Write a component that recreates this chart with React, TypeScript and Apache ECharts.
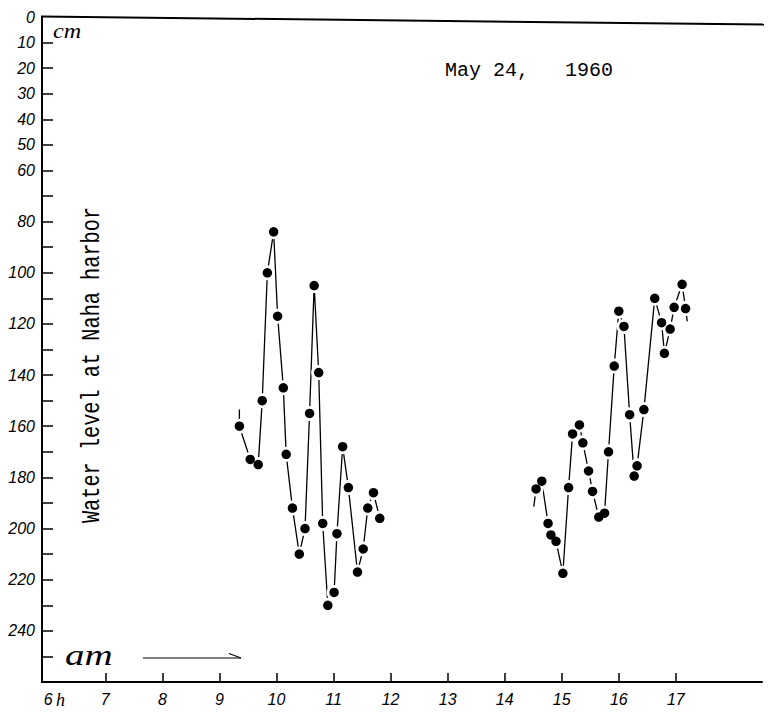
import React, { useEffect, useRef } from "react";
import * as echarts from "echarts";

// Morning observations (hour of day, water level in cm below datum)
const amTimes = [9.35, 9.54, 9.68, 9.75, 9.84, 9.95, 10.02, 10.12, 10.17, 10.28, 10.4, 10.5, 10.58, 10.66, 10.74, 10.81, 10.9, 11.01, 11.06, 11.16, 11.26, 11.42, 11.52, 11.6, 11.7, 11.81];
const amLevels = [160, 173, 175, 150, 100, 84, 117, 145, 171, 192, 210, 200, 155, 105, 139, 198, 230, 225, 202, 168, 184, 217, 208, 192, 186, 196];

// Afternoon observations
const pmTimes = [14.55, 14.65, 14.76, 14.81, 14.9, 15.02, 15.12, 15.19, 15.31, 15.37, 15.47, 15.54, 15.65, 15.75, 15.82, 15.92, 16.0, 16.09, 16.19, 16.27, 16.32, 16.44, 16.63, 16.75, 16.8, 16.9, 16.97, 17.11, 17.17];
const pmLevels = [184.5, 181.5, 198, 202.5, 205, 217.5, 184, 163, 159.5, 166.5, 177.5, 185.5, 195.5, 194, 170, 136.5, 115, 121, 155.5, 179.5, 175.5, 153.5, 110, 119.5, 131.5, 122, 113.5, 104.5, 114];

// Hand-drawn curve continuation stubs (time, level)
const amLeadStub = [9.35, 153.5];
const pmLeadStub = [14.51, 191.4];
const pmTrailStub = [17.2, 119];

// Axis ticks / labels
const xTickValues = [7, 8, 9, 10, 11, 12, 13, 14, 15, 16, 17];
const xLabelValues = [6, 7, 8, 9, 10, 11, 12, 13, 14, 15, 16, 17];
const yTickValues = [10, 20, 30, 40, 50, 60, 70, 80, 90, 100, 110, 120, 130, 140, 150, 160, 170, 180, 190, 200, 210, 220, 230, 240, 250];
const yLabelValues = [0, 10, 20, 30, 40, 50, 60, 80, 100, 120, 140, 160, 180, 200, 220, 240];

const title = "May 24,   1960";
const yName = "Water level at Naha harbor";

const handFont = "Liberation Sans";
const typeFont = "Liberation Mono";

function pairs(t: number[], v: number[]) {
  return t.map((x, i) => [x, v[i]]);
}

export default function App() {
  const ref = useRef<HTMLDivElement>(null);

  useEffect(() => {
    if (!ref.current) return;
    const chart = echarts.init(ref.current, null, { renderer: "svg" });

    const amPts = pairs(amTimes, amLevels);
    const pmPts = pairs(pmTimes, pmLevels);
    const stub = (p: number[]) => ({ value: p, symbol: "none" });

    const haloLine = (data: any[]) => ({
      type: "line",
      data,
      symbol: "circle",
      symbolSize: 15,
      showAllSymbol: true,
      itemStyle: { color: "#ffffff", borderWidth: 0 },
      lineStyle: { color: "#000", width: 1.3 },
      z: 2,
      silent: true,
    });
    const dots = (data: any[]) => ({
      type: "scatter",
      data,
      symbol: "circle",
      symbolSize: 9.5,
      itemStyle: { color: "#000", opacity: 1 },
      z: 4,
      silent: true,
    });

    chart.setOption({
      animation: false,
      backgroundColor: "#ffffff",
      grid: { left: 42, top: 17, right: 7, bottom: 30, containLabel: false },
      xAxis: {
        type: "value",
        min: 5.89,
        max: 18.51,
        splitLine: { show: false },
        axisLine: { show: true, onZero: false, lineStyle: { color: "#000", width: 2 } },
        axisTick: {
          show: true,
          inside: true,
          length: 9,
          customValues: xTickValues,
          lineStyle: { color: "#000", width: 1.5 },
        },
        axisLabel: {
          customValues: xLabelValues,
          margin: 9,
          color: "#000",
          fontFamily: handFont,
          fontStyle: "italic",
          fontSize: 16,
        },
      },
      yAxis: {
        type: "value",
        inverse: true,
        min: 0,
        max: 260,
        splitLine: { show: false },
        axisLine: { show: true, onZero: false, lineStyle: { color: "#000", width: 2 } },
        axisTick: {
          show: true,
          inside: true,
          length: 11,
          customValues: yTickValues,
          lineStyle: { color: "#000", width: 1.5 },
        },
        axisLabel: {
          customValues: yLabelValues,
          showMinLabel: true,
          margin: 7,
          color: "#000",
          fontFamily: handFont,
          fontStyle: "italic",
          fontSize: 16,
        },
      },
      series: [
        haloLine([stub(amLeadStub), ...amPts]),
        haloLine([stub(pmLeadStub), ...pmPts, stub(pmTrailStub)]),
        dots(amPts),
        dots(pmPts),
      ],
      graphic: [
        {
          type: "line",
          shape: { x1: 41, y1: 16.5, x2: 764, y2: 24.5 },
          style: { stroke: "#000", lineWidth: 2 },
          z: 10,
        },
        {
          type: "text",
          x: 53,
          y: 31,
          scaleX: 1.15,
          style: {
            text: "cm",
            fontFamily: "Liberation Serif",
            fontStyle: "italic",
            fontSize: 21,
            fill: "#000",
            textVerticalAlign: "middle",
          },
        },
        {
          type: "text",
          x: 445,
          y: 70,
          style: {
            text: title,
            fontFamily: typeFont,
            fontSize: 20,
            fill: "#000",
            textVerticalAlign: "middle",
          },
        },
        {
          type: "text",
          x: 92,
          y: 365,
          rotation: Math.PI / 2,
          scaleX: 0.78,
          style: {
            text: yName,
            fontFamily: typeFont,
            fontSize: 26,
            fill: "#000",
            textAlign: "center",
            textVerticalAlign: "middle",
          },
        },
        {
          type: "text",
          x: 65,
          y: 655,
          scaleX: 1.3,
          style: {
            text: "am",
            fontFamily: "Liberation Serif",
            fontStyle: "italic",
            fontSize: 30,
            fill: "#000",
            textVerticalAlign: "middle",
          },
        },
        {
          type: "line",
          shape: { x1: 143, y1: 658, x2: 241, y2: 658 },
          style: { stroke: "#000", lineWidth: 1.2 },
        },
        {
          type: "line",
          shape: { x1: 229, y1: 653.5, x2: 241, y2: 658 },
          style: { stroke: "#000", lineWidth: 1.2 },
        },
        {
          type: "text",
          x: 56,
          y: 700,
          style: {
            text: "h",
            fontFamily: "Liberation Serif",
            fontStyle: "italic",
            fontSize: 18,
            fill: "#000",
            textVerticalAlign: "middle",
          },
        },
      ],
    });

    return () => chart.dispose();
  }, []);

  return (
    <div
      ref={ref}
      style={{ position: "fixed", left: 0, top: 0, width: 769, height: 712, background: "#fff" }}
    />
  );
}
